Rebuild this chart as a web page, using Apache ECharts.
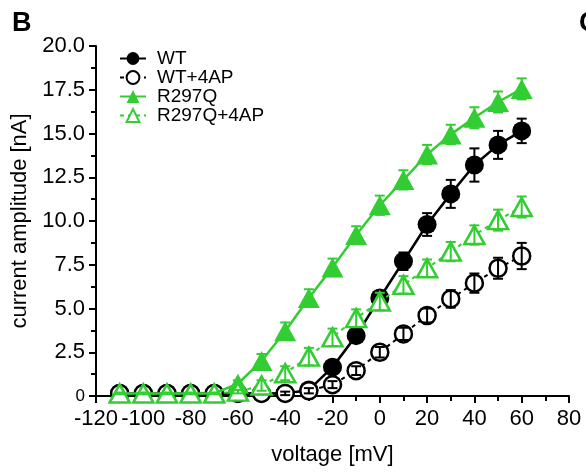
<!DOCTYPE html>
<html><head><meta charset="utf-8">
<script src="https://cdn.jsdelivr.net/npm/echarts@6/dist/echarts.min.js"></script>
<style>html,body{margin:0;padding:0;background:#fff}#c{width:586px;height:476px}</style>
</head><body><div id="c"></div>
<script>
const voltage = [-110,-100,-90,-80,-70,-60,-50,-40,-30,-20,-10,0,10,20,30,40,50,60];
const wt        = [0.15,0.15,0.15,0.15,0.15,0.15,0.15,0.15,0.35,1.65,3.45,5.6,7.7,9.8,11.55,13.2,14.35,15.15];
const wtErr     = [0.05,0.05,0.05,0.05,0.05,0.05,0.05,0.1,0.2,0.3,0.35,0.4,0.5,0.65,0.8,0.95,0.8,0.7];
const wt4ap     = [0.15,0.15,0.15,0.15,0.15,0.15,0.15,0.15,0.3,0.65,1.45,2.5,3.55,4.6,5.55,6.45,7.3,8.0];
const wt4apErr  = [0.05,0.05,0.05,0.05,0.05,0.05,0.05,0.1,0.15,0.2,0.25,0.3,0.35,0.4,0.5,0.55,0.6,0.75];
const r297q     = [0.15,0.15,0.15,0.15,0.15,0.7,2.0,3.7,5.6,7.35,9.2,10.9,12.35,13.8,14.95,15.9,16.8,17.55];
const r297qErr  = [0.05,0.05,0.05,0.05,0.05,0.2,0.4,0.5,0.5,0.5,0.5,0.55,0.55,0.55,0.55,0.6,0.6,0.6];
const r297q4ap  = [0.15,0.15,0.15,0.15,0.15,0.25,0.6,1.3,2.25,3.35,4.45,5.4,6.35,7.3,8.25,9.2,10.05,10.8];
const r297q4apErr=[0.05,0.05,0.05,0.05,0.05,0.1,0.3,0.4,0.5,0.5,0.5,0.5,0.5,0.5,0.55,0.55,0.6,0.6];
const seriesNames = ['WT','WT+4AP','R297Q','R297Q+4AP'];
const xTicks = [-120,-100,-80,-60,-40,-20,0,20,40,60,80];
const yTicks = [0,2.5,5,7.5,10,12.5,15,17.5,20];

const GREEN = '#32CD32';
const FONT = 'Liberation Sans, Arial, sans-serif';

function pts(ys){ return voltage.map((v,i)=>[v, ys[i]]); }
function errPts(ys, es){ return voltage.map((v,i)=>[v, ys[i], es[i]]); }

function errRender(color){
  return function(params, api){
    const x = api.value(0), y = api.value(1), e = api.value(2);
    const t = api.coord([x, y+e]), b = api.coord([x, y-e]);
    const hw = 5;
    const st = {stroke: color, lineWidth: 2};
    return {type:'group', children:[
      {type:'line', shape:{x1:t[0],y1:t[1],x2:b[0],y2:b[1]}, style:st},
      {type:'line', shape:{x1:t[0]-hw,y1:t[1],x2:t[0]+hw,y2:t[1]}, style:st},
      {type:'line', shape:{x1:b[0]-hw,y1:b[1],x2:b[0]+hw,y2:b[1]}, style:st}
    ]};
  };
}

function lineSeries(name, ys, opts, z){
  return Object.assign({
    name, type:'line', data: pts(ys), z, clip:false,
    showSymbol:true, animation:false
  }, opts);
}
function errSeries(name, ys, es, color, z){
  return {name: name+' err', type:'custom', data: errPts(ys, es), renderItem: errRender(color),
    encode:{x:0,y:1}, z, clip:false, animation:false, silent:true};
}

const chart = echarts.init(document.getElementById('c'), null, {renderer:'canvas'});
chart.setOption({
  animation:false,
  backgroundColor:'#fff',
  grid:{left:96, right:17, top:46, bottom:80, containLabel:false},
  xAxis:{
    type:'value', min:xTicks[0], max:xTicks[xTicks.length-1], interval:20,
    name:'voltage [mV]', nameLocation:'middle', nameGap:48,
    nameTextStyle:{fontSize:22, color:'#000', fontFamily:FONT},
    axisLine:{show:true, onZero:false, lineStyle:{color:'#000', width:2}},
    axisTick:{show:true, length:7, lineStyle:{color:'#000', width:2}},
    minorTick:{show:true, splitNumber:2, length:5, lineStyle:{color:'#000', width:2}},
    splitLine:{show:false},
    axisLabel:{fontSize:22, color:'#000', fontFamily:FONT, margin:12, showMinLabel:true, showMaxLabel:true}
  },
  yAxis:{
    type:'value', min:yTicks[0], max:yTicks[yTicks.length-1], interval:2.5,
    name:'current amplitude [nA]', nameLocation:'middle', nameGap:53,
    nameTextStyle:{fontSize:22, color:'#000', fontFamily:FONT},
    axisLine:{show:true, onZero:false, lineStyle:{color:'#000', width:2}},
    axisTick:{show:true, length:7, lineStyle:{color:'#000', width:2}},
    minorTick:{show:true, splitNumber:2, length:5, lineStyle:{color:'#000', width:2}},
    splitLine:{show:false},
    axisLabel:{fontSize:22, color:'#000', fontFamily:FONT, margin:11,
      formatter: v => v === 0 ? '{z|0}' : v.toFixed(1),
      rich:{z:{fontSize:17, color:'#000', fontFamily:FONT}}}
  },
  legend:{
    orient:'vertical', left:114, top:44, itemWidth:26, itemHeight:16, itemGap:0,
    data: seriesNames,
    textStyle:{fontSize:19, color:'#000', fontFamily:FONT, padding:[0,0,0,6]}
  },
  graphic:[
    {type:'text', left:12, top:10, style:{text:'B', fontSize:27, fontWeight:'bold', fill:'#000', fontFamily:FONT}},
    {type:'text', left:579, top:10, style:{text:'C', fontSize:27, fontWeight:'bold', fill:'#000', fontFamily:FONT}}
  ],
  series:[
    lineSeries(seriesNames[0], wt, {symbol:'circle', symbolSize:19,
      itemStyle:{color:'#000'}, lineStyle:{color:'#000', width:2.5, type:'solid'}}, 2),
    errSeries(seriesNames[0], wt, wtErr, '#000', 3),
    lineSeries(seriesNames[1], wt4ap, {symbol:'circle', symbolSize:17,
      itemStyle:{color:'#fff', borderColor:'#000', borderWidth:2.5},
      lineStyle:{color:'#000', width:2, type:[4,4]}}, 4),
    errSeries(seriesNames[1], wt4ap, wt4apErr, '#000', 5),
    lineSeries(seriesNames[2], r297q, {symbol:'triangle', symbolSize:[22,20],
      itemStyle:{color:GREEN}, lineStyle:{color:GREEN, width:2.5, type:'solid'}}, 6),
    errSeries(seriesNames[2], r297q, r297qErr, GREEN, 7),
    lineSeries(seriesNames[3], r297q4ap, {symbol:'triangle', symbolSize:[20,18],
      itemStyle:{color:'#fff', borderColor:GREEN, borderWidth:2.5},
      lineStyle:{color:GREEN, width:2, type:[4,4]}}, 8),
    errSeries(seriesNames[3], r297q4ap, r297q4apErr, GREEN, 9)
  ]
});
</script>
</body></html>
